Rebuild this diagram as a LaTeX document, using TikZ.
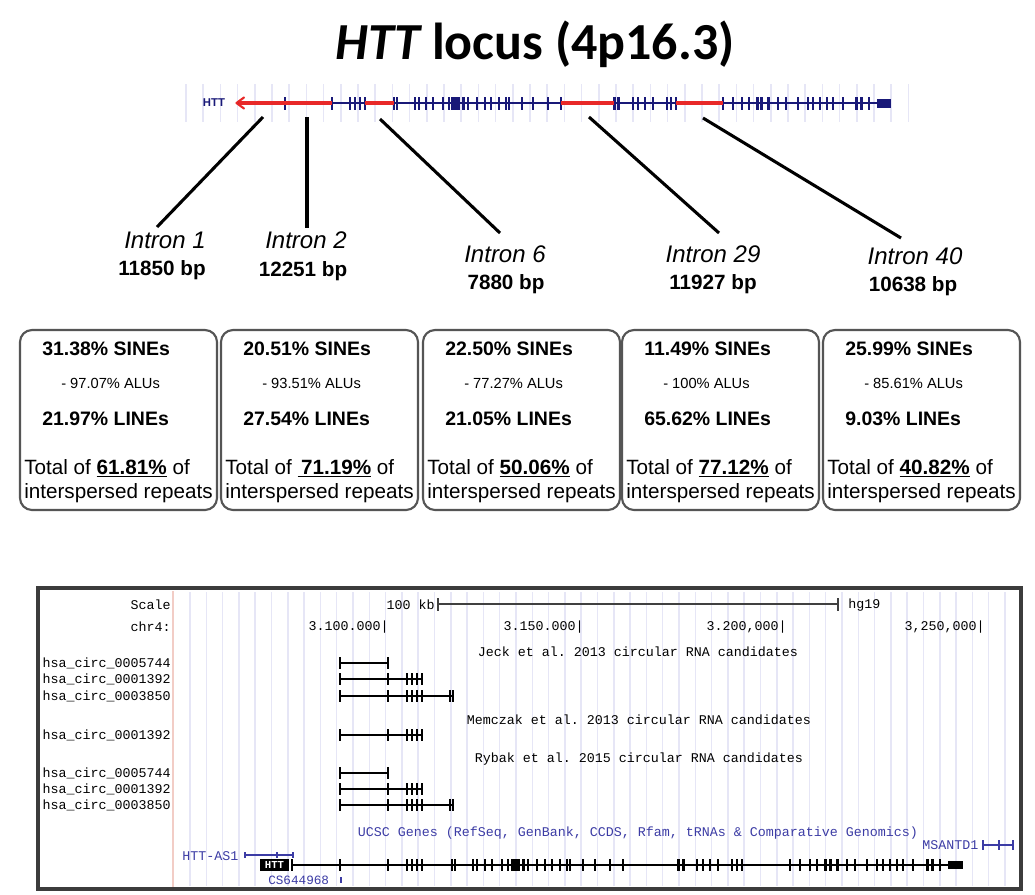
\documentclass[tikz,border=0pt]{standalone}
\usepackage{fontspec}
\setmainfont{Liberation Sans}
\newfontfamily\titlefont{Carlito}
\newfontfamily\ucscfont{Liberation Mono}
\usetikzlibrary{arrows.meta}
\definecolor{genenavy}{RGB}{25,25,120}
\definecolor{intronred}{RGB}{232,40,40}
\definecolor{gridlav}{RGB}{230,230,246}
\definecolor{ucscblue}{RGB}{60,60,165}
\definecolor{boxgray}{RGB}{85,85,85}
\definecolor{framegray}{RGB}{60,60,60}
\definecolor{pinkline}{RGB}{242,205,198}
\begin{document}
\frenchspacing
\begin{tikzpicture}[x=0.75pt,y=-0.75pt,
  gridline/.style={gridlav,line width=1.1pt},
  connector/.style={black,line width=2.3pt},
  intronlbl/.style={font=\fontsize{18}{20}\selectfont\itshape,inner sep=0},
  bplbl/.style={font=\fontsize{15.5}{18}\selectfont\bfseries,inner sep=0},
  repbox/.style={draw=boxgray,line width=1.6pt,rounded corners=9pt},
  boldline/.style={anchor=west,inner sep=0,font=\fontsize{14.6}{16}\selectfont\bfseries},
  aluline/.style={anchor=west,inner sep=0,font=\fontsize{11}{12}\selectfont},
  totalline/.style={inner sep=0,align=left,font=\fontsize{15.5}{18.5}\selectfont},
  ucsctxt/.style={inner sep=0,font=\ucscfont\fontsize{10}{11}\selectfont},
  circfeat/.style={black,line width=1.1pt},
  httgene/.style={black,line width=0.9pt}]
\useasboundingbox (0,0) rectangle (1035,894);
\fill[white] (0,0) rectangle (1035,894);

% ---------- title ----------
\node[inner sep=0] (title) at (535,44) {\titlefont\fontsize{39}{44}\selectfont\bfseries\itshape HTT\upshape\ locus (4p16.3)};

% ---------- top gene track ----------
\foreach \i in {0,...,42} \draw[gridline] ({186+17.2*\i},84) -- ({186+17.2*\i},122);
\node[text=genenavy,inner sep=0,font=\fontsize{8.5}{9}\selectfont\bfseries] (toplabel) at (214,103) {HTT};
\draw[genenavy,line width=1.1pt] (238,103) -- (878,103);
\foreach \b/\w in {340/2,388/2,407/2,412/2,417/2,422/2,452/2,455/2,473/2,477/2,485/2,492/2,502/2,508/2,512/3,515/3,518/3,523/3,528/2,537/2,545/2,552/2,560/2,567/2,570/2,583/2,595/2,610/2,623/2,678/3,683/3,697/2,703/2,710/2,718/2,732/2,737/2,742/2,790/2,800/2,810/2,817/2,825/3,830/3,837/3,847/2,855/2,867/2,877/2,883/2,890/2,897/2,903/2,913/2,927/3,932/3,940/2}{
  \pgfmathsetmacro\t{0.9726*\b-45.4}
  \fill[genenavy] ({\t-\w/2},97) rectangle ({\t+\w/2},110);
}
\fill[genenavy] (876.6,99) rectangle (891.2,107.5);
\draw[intronred,line width=2.6pt] (238.6,103) -- (285.3,103);
\draw[intronred,line width=2.6pt] (285.3,103) -- (332,103);
\draw[intronred,line width=2.6pt] (365,103) -- (394.2,103);
\draw[intronred,line width=2.6pt] (560.5,103) -- (614,103);
\draw[intronred,line width=2.6pt] (676,103) -- (723,103);
\draw[intronred,line width=1.6pt,line cap=round,line join=round] (244,97.5) -- (236.5,103) -- (244,108.5);

% ---------- intron labels ----------
\node[intronlbl] (in1) at (165,240) {Intron 1};
\node[bplbl] (bp1) at (162,270) {11850 bp};
\node[intronlbl] (in2) at (306,240) {Intron 2};
\node[bplbl] (bp2) at (303,271) {12251 bp};
\node[intronlbl] (in6) at (505,254) {Intron 6};
\node[bplbl] (bp6) at (506,284) {7880 bp};
\node[intronlbl] (in29) at (713,254) {Intron 29};
\node[bplbl] (bp29) at (713,284) {11927 bp};
\node[intronlbl] (in40) at (915,256) {Intron 40};
\node[bplbl] (bp40) at (913,286) {10638 bp};

\coordinate (c1a) at (263,117); \coordinate (c1b) at (157,227);
\coordinate (c2a) at (307,117); \coordinate (c2b) at (307,228);
\coordinate (c6a) at (380,119); \coordinate (c6b) at (500,233);
\coordinate (c29a) at (589,117); \coordinate (c29b) at (719,233);
\coordinate (c40a) at (703,118); \coordinate (c40b) at (901,238);
\draw[connector] (c1a) -- (c1b);
\draw[connector] (c2a) -- (c2b);
\draw[connector] (c6a) -- (c6b);
\draw[connector] (c29a) -- (c29b);
\draw[connector] (c40a) -- (c40b);

% ---------- repeat boxes ----------
\foreach \L/\s/\a/\l/\tot/\n in {20/31.38/97.07/21.97/61.81/1,221/20.51/93.51/27.54/\,71.19/2,423/22.50/77.27/21.05/50.06/3,622/11.49/100/65.62/77.12/4,823/25.99/85.61/9.03/40.82/5}{
  \draw[repbox] (\L,330) rectangle ({\L+197},510);
  \node[boldline] (sine\n) at ({\L+22},349) {\s\% SINEs};
  \node[aluline] (alu\n) at ({\L+41},383) {- \a\% ALUs};
  \node[boldline] (line\n) at ({\L+22},419) {\l\% LINEs};
  \node[totalline] (tot\n) at ({\L+98.5},481) {Total of \textbf{\underline{\tot\%}} of\\interspersed repeats};
}

% ---------- UCSC browser panel ----------
\foreach \i in {0,...,50} \draw[gridline] ({190+16.3*\i},592) -- ({190+16.3*\i},886);
\draw[pinkline,line width=1pt] (173,591) -- (173,887);
\draw[framegray,line width=2.3pt] (38,588) rectangle (1021,889);

\node[ucsctxt,anchor=east] (scale) at (171,605) {Scale};
\node[ucsctxt,anchor=east] (chr) at (171,627) {chr4:};
\node[ucsctxt,anchor=east] (kb) at (435,605) {100 kb};
\coordinate (sbL) at (438,604); \coordinate (sbR) at (838,604);
\draw[black!75,line width=1.2pt] (sbL) -- (sbR);
\draw[black!75,line width=1.2pt] (438,598) -- (438,611);
\draw[black!75,line width=1.2pt] (838,598) -- (838,611);
\node[ucsctxt,anchor=west] (hg) at (848,605) {hg19};
\node[ucsctxt,anchor=east] (p1) at (389,627) {3.100.000|};
\node[ucsctxt,anchor=east] (p2) at (584,627) {3.150.000|};
\node[ucsctxt,anchor=east] (p3) at (787,627) {3.200,000|};
\node[ucsctxt,anchor=east] (p4) at (985,627) {3,250,000|};

\node[ucsctxt] (jeck) at (638,652) {Jeck et al. 2013 circular RNA candidates};
\node[ucsctxt] (memczak) at (639,720) {Memczak et al. 2013 circular RNA candidates};
\node[ucsctxt] (rybak) at (639,759) {Rybak et al. 2015 circular RNA candidates};
\node[ucsctxt,text=ucscblue] (ucscg) at (638,833) {UCSC Genes (RefSeq, GenBank, CCDS, Rfam, tRNAs \& Comparative Genomics)};

\foreach \y/\nm/\tk/\e [count=\k] in {663/0005744/{340,388}/388,679/0001392/{340,388,407,412,417,422}/422,696/0003850/{340,388,407,412,417,422,450,453}/453,735/0001392/{340,388,407,412,417,422}/422,773/0005744/{340,388}/388,789/0001392/{340,388,407,412,417,422}/422,805/0003850/{340,388,407,412,417,422,450,453}/453}{
  \node[ucsctxt,anchor=east] (circ\k) at (171,\y) {hsa\_circ\_\nm};
  \draw[circfeat] (340,\y) -- (\e,\y);
  \foreach \x in \tk { \draw[circfeat] (\x,{\y-6}) -- (\x,{\y+6}); }
}

% genes
\node[ucsctxt,text=ucscblue,anchor=west] (htas) at (182,856) {HTT-AS1};
\draw[ucscblue,line width=0.8pt] (245,855) -- (293,855);
\foreach \x in {245,277,293} \draw[ucscblue,line width=0.8pt] (\x,852) -- (\x,858);
\fill[black] (260,859) rectangle (289,871);
\node[inner sep=0,text=white,font=\ucscfont\fontsize{8}{9}\selectfont\bfseries] (httbox) at (274.5,865) {HTT};
\draw[httgene] (292,865) -- (948,865);
\draw[httgene] (292,859) -- (292,871);
\foreach \b/\w in {340/2,388/2,407/2,412/2,417/2,422/2,452/2,455/2,473/2,477/2,485/2,492/2,502/2,508/2,512/3,515/3,518/3,523/3,528/2,537/2,545/2,552/2,560/2,567/2,570/2,583/2,595/2,610/2,623/2,678/3,683/3,697/2,703/2,710/2,718/2,732/2,737/2,742/2,790/2,800/2,810/2,817/2,825/3,830/3,837/3,847/2,855/2,867/2,877/2,883/2,890/2,897/2,903/2,913/2,927/3,932/3,940/2}{
  \fill[black] ({\b-\w/2},859) rectangle ({\b+\w/2},871);
}
\fill[black] (948,861) rectangle (963,869);
\node[ucsctxt,text=ucscblue,anchor=west,font=\ucscfont\fontsize{9.5}{10}\selectfont] (cs) at (268,880) {CS644968};
\draw[ucscblue,line width=0.8pt] (341,877) -- (341,883);
\node[ucsctxt,text=ucscblue,anchor=west] (msantd) at (922,845) {MSANTD1};
\draw[ucscblue,line width=0.9pt] (983,845) -- (1013,845);
\foreach \x in {983,999,1013} \draw[ucscblue,line width=0.9pt] (\x,840) -- (\x,850);
\end{tikzpicture}
\end{document}
